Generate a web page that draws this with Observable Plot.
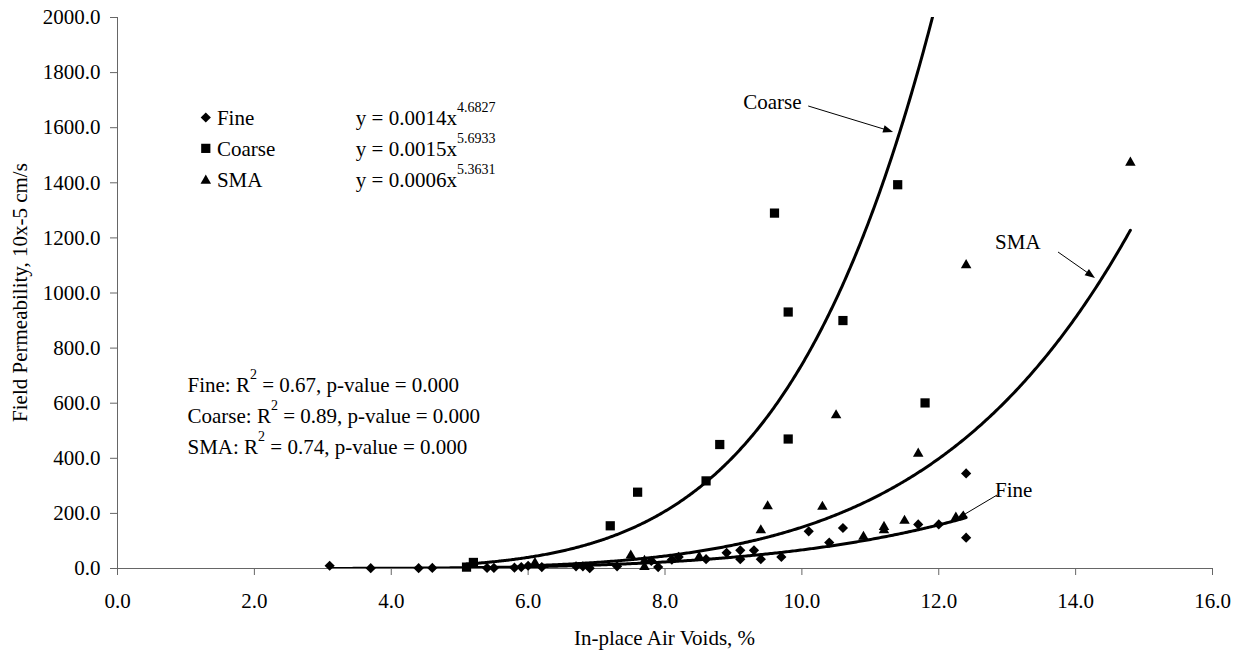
<!DOCTYPE html>
<html><head><meta charset="utf-8">
<script src="https://cdn.jsdelivr.net/npm/d3@7"></script>
<script src="https://cdn.jsdelivr.net/npm/@observablehq/plot@0.6"></script>
<style>
body{margin:0;background:#fff}
svg text{white-space:pre}
</style>
</head><body><div id="chart"></div>
<script>
// ---- data ----
const fineX = [3.1,3.7,4.4,4.6,5.4,5.5,5.8,5.9,6.0,6.2,6.7,6.8,6.9,7.3,7.8,7.9,8.1,8.2,8.6,8.9,9.1,9.1,9.3,9.4,9.7,10.1,10.4,10.6,11.7,12.0,12.4,12.4];
const fineY = [10,1,1,2,2,2,3,5,10,5,8,8,1,8,28,5,32,42,34,57,34,66,66,34,42,135,94,147,160,160,345,112];
const coarseX = [5.1,5.2,7.2,7.6,8.6,8.8,9.6,9.8,9.8,10.6,11.4,11.8];
const coarseY = [5,22,155,277,318,450,1290,931,470,900,1393,601];
const smaX = [6.1,7.5,7.7,7.7,8.5,9.4,9.5,10.3,10.5,10.9,11.2,11.2,11.5,11.7,12.25,12.4,14.8];
const smaY = [20,47,6,28,42,139,226,224,556,115,151,139,173,417,185,1101,1473];

const seriesNames = ["Fine","Coarse","SMA"];
const seriesSymbols = ["diamond2","square","triangle"];
const seriesR = [4.6,5.2,3.9];
// power trendlines y = a x^b (as drawn)
const trendA = [0.0014,0.0015,0.00065];
const trendB = [4.6827,5.6933,5.3631];
const trendFrom = [3.1,5.1,6.1];
const trendTo = [12.4,12.0,14.8];

const xTicks = [0,2,4,6,8,10,12,14,16];
const yTicks = [0,200,400,600,800,1000,1200,1400,1600,1800,2000];
const xTitle = "In-place Air Voids, %";
const yTitle = "Field Permeability, 10x-5 cm/s";

const eqText = ["y = 0.0014x","y = 0.0015x","y = 0.0006x"];
const eqExp = ["4.6827","5.6933","5.3631"];
const r2Head = ["Fine: R","Coarse: R","SMA: R"];
const r2Tail = [" = 0.67, p-value = 0.000"," = 0.89, p-value = 0.000"," = 0.74, p-value = 0.000"];

// annotation positions (data units)
const legendMarkX = 1.29, legendTextX = 1.46, eqX = 3.49;
const legendMarkY = [1637,1525,1408];
const legendBaseY = [1608,1497,1383];
const r2X = 1.03, r2BaseY = [639,526,414];
const calloutText = ["Fine","Coarse","SMA"];
const calloutX = [12.83,9.15,12.83];
const calloutY = [258,1665,1158];
const arrowFromX = [12.86,10.1,13.75], arrowFromY = [265,1677,1147];
const arrowToX = [12.27,11.34,14.29], arrowToY = [178,1583,1053];

// ---- build tables ----
const allX = [fineX, coarseX, smaX], allY = [fineY, coarseY, smaY];
const points = [];
allX.forEach((xs, s) => xs.forEach((x, i) => points.push({series: seriesNames[s], x, y: allY[s][i]})));
const curves = [];
seriesNames.forEach((name, s) => {
  const n = 400;
  for (let i = 0; i <= n; i++) {
    const x = trendFrom[s] + (trendTo[s] - trendFrom[s]) * i / n;
    curves.push({series: name, x, y: trendA[s] * Math.pow(x, trendB[s])});
  }
});
const legendRows = seriesNames.map((name, s) => ({series: name, x: legendMarkX, y: legendMarkY[s]}));

const NS = "http://www.w3.org/2000/svg";
function el(tag, attrs) {
  const e = document.createElementNS(NS, tag);
  for (const [k, v] of Object.entries(attrs || {})) e.setAttribute(k, v);
  return e;
}
function richText(x, y, parts, attrs) {
  const t = el("text", Object.assign({x, y, fill: "black", "text-anchor": "start"}, attrs || {}));
  let shift = 0;
  for (const p of parts) {
    const s = el("tspan");
    const target = p.sup ? -13 : 0;
    if (target !== shift) { s.setAttribute("dy", target - shift); shift = target; }
    if (p.sup) s.setAttribute("font-size", 14);
    s.textContent = p.text;
    t.appendChild(s);
  }
  return t;
}

function annotations(index, scales, values, dim) {
  const g = el("g", {"font-size": 21, "text-anchor": "start"});
  const X = scales.x, Y = scales.y;
  seriesNames.forEach((name, s) => {
    g.appendChild(richText(X(legendTextX), Y(legendBaseY[s]), [{text: name}]));
    g.appendChild(richText(X(eqX), Y(legendBaseY[s]), [{text: eqText[s]}, {text: eqExp[s], sup: true}]));
    g.appendChild(richText(X(r2X), Y(r2BaseY[s]), [{text: r2Head[s]}, {text: "2", sup: true}, {text: r2Tail[s]}]));
    g.appendChild(richText(X(calloutX[s]), Y(calloutY[s]), [{text: calloutText[s]}]));
    const x1 = X(arrowFromX[s]), y1 = Y(arrowFromY[s]), x2 = X(arrowToX[s]), y2 = Y(arrowToY[s]);
    const dx = x2 - x1, dy = y2 - y1, L = Math.hypot(dx, dy), ux = dx / L, uy = dy / L;
    const hl = 10, hw = 3.8;
    g.appendChild(el("line", {x1, y1, x2: x2 - ux * hl * 0.8, y2: y2 - uy * hl * 0.8, stroke: "black", "stroke-width": 1}));
    const bx = x2 - ux * hl, by = y2 - uy * hl;
    g.appendChild(el("polygon", {points: `${x2},${y2} ${bx - uy * hw},${by + ux * hw} ${bx + uy * hw},${by - ux * hw}`, fill: "black"}));
  });
  // axis titles
  const cx = (dim.marginLeft + dim.width - dim.marginRight) / 2;
  const cy = (dim.marginTop + dim.height - dim.marginBottom) / 2;
  g.appendChild(richText(cx, 645, [{text: xTitle}], {"text-anchor": "middle"}));
  g.appendChild(richText(0, 0, [{text: yTitle}], {"text-anchor": "middle", transform: `translate(27,${cy}) rotate(-90)`}));
  return g;
}

const chart = Plot.plot({
  width: 1244, height: 653,
  marginLeft: 117, marginRight: 32, marginTop: 17, marginBottom: 85,
  style: {fontFamily: '"Liberation Serif", "Times New Roman", serif', fontSize: "21px", background: "white", color: "black", overflow: "visible"},
  x: {domain: [0, 16]},
  y: {domain: [0, 2000]},
  symbol: {domain: seriesNames, range: seriesSymbols},
  r: {type: "identity"},
  marks: [
    Plot.axisX({ticks: xTicks, tickSize: 7, tickPadding: 18, tickFormat: d => d.toFixed(1), label: null, stroke: "#666", fill: "black", fontSize: 21}),
    Plot.axisY({ticks: yTicks, tickSize: 7, tickPadding: 10, tickFormat: d => d.toFixed(1), label: null, stroke: "#666", fill: "black", fontSize: 21}),
    Plot.ruleY([0], {stroke: "#666"}),
    Plot.ruleX([0], {stroke: "#666"}),
    Plot.dot(points, {x: "x", y: "y", symbol: "series", r: d => seriesR[seriesNames.indexOf(d.series)], fill: "black", stroke: "none"}),
    Plot.line(curves, {x: "x", y: "y", z: "series", stroke: "black", strokeWidth: 3, clip: true}),
    Plot.dot(legendRows, {x: "x", y: "y", symbol: "series", r: d => seriesR[seriesNames.indexOf(d.series)], fill: "black", stroke: "none"}),
    annotations
  ]
});
document.getElementById("chart").appendChild(chart);
</script></body></html>
